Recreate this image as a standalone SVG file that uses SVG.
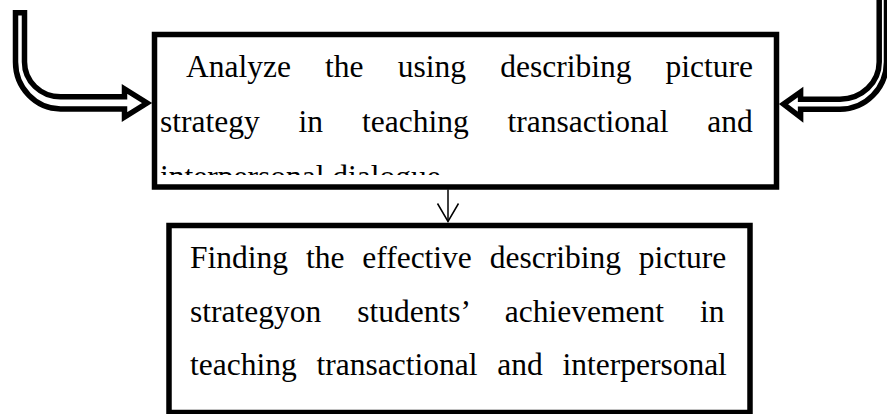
<svg xmlns="http://www.w3.org/2000/svg" width="887" height="414" viewBox="0 0 887 414">
  <style>
    .box { fill: #ffffff; stroke: #000000; stroke-width: 5.5; }
    .txt { font-family: "Liberation Serif", "Times New Roman", serif; font-size: 31.5px; fill: #000000; }
    .block { fill: #ffffff; stroke: #000000; stroke-width: 5.5; stroke-linejoin: miter; stroke-miterlimit: 10; }
    .thin { fill: none; stroke: #000000; stroke-width: 1.5; }
  </style>
  <defs>
    <clipPath id="clipTop">
      <rect x="157" y="37" width="617" height="138"/>
    </clipPath>
    <marker id="vhead" markerWidth="24" markerHeight="24" refX="20" refY="12" orient="auto" markerUnits="userSpaceOnUse">
      <path d="M2,1.5 L20,12 L2,22.5" fill="none" stroke="#000000" stroke-width="1.5"/>
    </marker>
  </defs>
  <rect width="887" height="414" fill="#ffffff"/>

  <g id="connectors">
    <path id="arrow-left" class="block" d="M15.5,12.8 L15.5,62 A45,47 0 0 0 60.5,108.9 L124.5,108.9 L124.5,117 L147,103 L124.5,89 L124.5,96.8 L60.5,96.8 A36,34.8 0 0 1 24.5,62 L24.5,12.8 Z"/>
    <path id="arrow-right" class="block" d="M886.5,-8 L886.5,62 A46.5,47.2 0 0 1 840,109.2 L800.6,109.2 L800.6,117.3 L783.5,104.2 L800.6,92 L800.6,99.2 L840,99.2 A39.2,37.2 0 0 0 879.2,62 L879.2,-8 Z"/>
    <line id="arrow-down" class="thin" x1="448" y1="189.5" x2="448" y2="221.5" marker-end="url(#vhead)"/>
  </g>

  <g id="node-analyze">
    <rect class="box" x="154.5" y="34.5" width="622" height="152.5"/>
    <g clip-path="url(#clipTop)">
      <text class="txt" x="186" y="76.5" word-spacing="26.3">Analyze the using describing picture</text>
      <text class="txt" x="160" y="131.5" word-spacing="31">strategy in teaching transactional and</text>
      <text class="txt" x="160" y="186.5">interpersonal dialogue</text>
    </g>
  </g>

  <g id="node-finding">
    <rect class="box" x="169" y="225.5" width="581" height="187"/>
    <text class="txt" x="190" y="267.5" word-spacing="10">Finding the effective describing picture</text>
    <text class="txt" x="190" y="321.5" word-spacing="28.2">strategyon students’ achievement in</text>
    <text class="txt" x="190" y="375" word-spacing="11.9">teaching transactional and interpersonal</text>
  </g>
</svg>
